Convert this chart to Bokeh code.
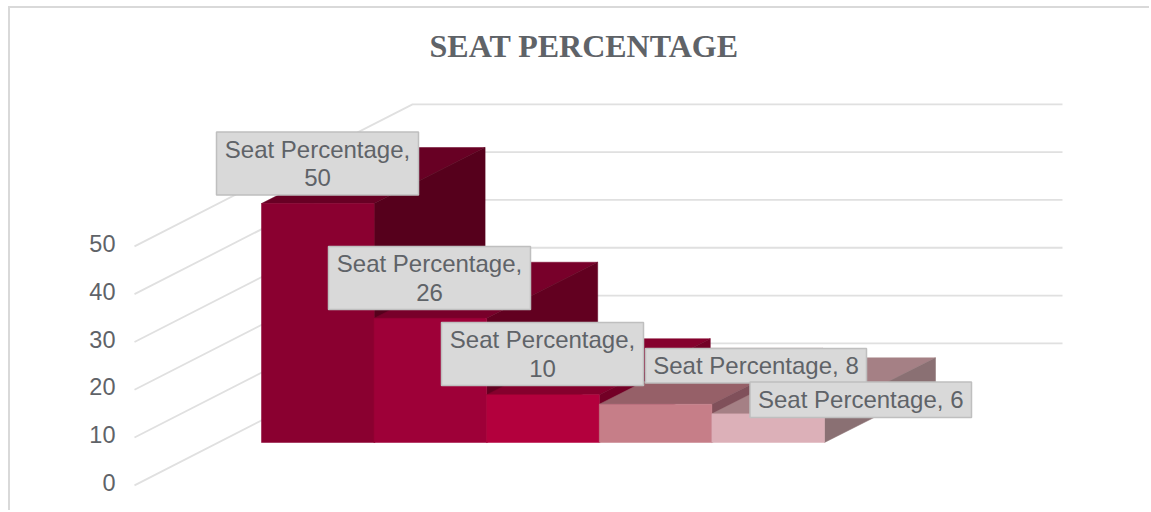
from bokeh.plotting import figure
from bokeh.models import LinearAxis, FixedTicker, Range1d
from bokeh.core.properties import value
from bokeh.embed import file_html
from bokeh.resources import INLINE

title = "SEAT PERCENTAGE"
series_name = "Seat Percentage"
values = [50, 26, 10, 8, 6]
y_ticks = [0, 10, 20, 30, 40, 50]
front_colors = ["#8a0030", "#9e0038", "#b3003d", "#c67e88", "#dcb0b8"]
top_colors = ["#680024", "#78002a", "#85002d", "#966068", "#a58085"]
side_colors = ["#56001c", "#620020", "#730026", "#80505a", "#8a7073"]
grid_color = "#e0e0e0"
text_color = "#5f6368"

# pixel layout of the picture -> data scales
PX_PER_CAT, PX_PER_VAL = 112.6, 4.78
X0_PX, Y0_PX = 262.0, 482.0
CX, CY = 11, 8           # canvas origin inside the window, as it maps to the picture
W, H = 1141, 504
LEFT, TOP = 114, 61
fx0, fx1 = CX + LEFT, CX + W
fy0, fy1 = CY + TOP, CY + H
def X(px): return (px - X0_PX) / PX_PER_CAT
def Y(py): return (Y0_PX - py) / PX_PER_VAL
DX = 111 / PX_PER_CAT
DY = 56 / PX_PER_VAL
BASE = Y(442)

p = figure(width=W, height=H, output_backend="svg", toolbar_location=None,
           x_range=Range1d(X(fx0), X(fx1)), y_range=Range1d(Y(fy1), Y(fy0)),
           x_axis_location=None, y_axis_location=None,
           min_border_left=LEFT, min_border_top=TOP, min_border_right=0, min_border_bottom=0,
           outline_line_color=None, background_fill_color="white", border_fill_color="white")
p.grid.visible = False
p.styles = {"border-top": "2px solid #d9d9d9", "border-left": "2px solid #d9d9d9",
            "margin-top": "6px", "margin-left": "8px"}

p.title.text = title
p.title.align = "left"
p.title.offset = 430 - fx0
p.title.text_font = "Liberation Serif"
p.title.text_font_style = "bold"
p.title.text_font_size = "32px"
p.title.text_color = text_color
p.title.standoff = 11

axis = LinearAxis(ticker=FixedTicker(ticks=y_ticks), axis_line_color=None,
                  major_tick_line_color=None, minor_tick_line_color=None,
                  major_label_standoff=3, major_label_text_font="Liberation Sans",
                  major_label_text_font_size="23.5px", major_label_text_color=text_color)
p.add_layout(axis, "left")

# walls: slanted side lines and horizontal back lines
wx0, wx1, wx2 = X(135), X(413), X(1063)
shift, wall_dy = -0.6, 142 / PX_PER_VAL
p.multi_line([[wx0, wx1, wx2] for _ in y_ticks],
             [[t + shift, t + shift + wall_dy, t + shift + wall_dy] for t in y_ticks],
             line_color=grid_color, line_width=1.8)

# bars, left to right
for i, v in enumerate(values):
    l, r, b, t = i, i + 1, BASE, BASE + v
    p.patch([l, r, r + DX, l + DX], [t, t, t + DY, t + DY], fill_color=top_colors[i],
            line_color=top_colors[i], line_width=0.5)
    p.patch([r, r + DX, r + DX, r], [t, t + DY, b + DY, b], fill_color=side_colors[i],
            line_color=side_colors[i], line_width=0.5)
    p.quad(left=l, right=r, bottom=b, top=t, fill_color=front_colors[i],
           line_color=front_colors[i], line_width=0.5)

# data labels (boxes in pixels of the picture)
boxes = [(217, 419, 131.5, 194.5), (329, 531, 246, 309), (442, 644, 322, 385),
         (646, 867, 348, 382.5), (750.5, 972, 381.5, 417)]
for v, (x0, x1, y0, y1) in zip(values, boxes):
    p.quad(left=X(x0), right=X(x1), bottom=Y(y1), top=Y(y0), fill_color="#d9d9d9",
           line_color="#bfbfbf", line_width=1.5)
    wrap = y1 - y0 > 50
    txt = f"{series_name},\n{v}" if wrap else f"{series_name}, {v}"
    p.text(x=[X((x0 + x1) / 2)], y=[Y((y0 + y1) / 2)], text=[txt], text_align="center",
           text_baseline="middle", text_font=value("Liberation Sans"), text_font_size="24px",
           text_color=text_color, text_line_height=1.05)

open("out.html", "w").write(file_html(p, INLINE))
